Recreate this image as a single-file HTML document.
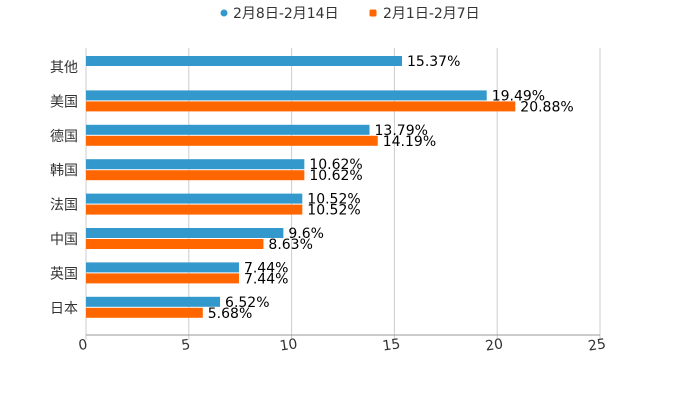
<!DOCTYPE html>
<html><head><meta charset="utf-8"><style>
body{margin:0;background:#fff;}
svg text{font-family:"DejaVu Sans","Noto Sans CJK SC",sans-serif;}
</style></head><body>
<svg id="c" width="700" height="400" xmlns="http://www.w3.org/2000/svg">
<g>
<g><circle cx="224" cy="13" r="3.5" fill="#3399cc"/><text x="233" y="18" font-size="14" fill="#333">2月8日-2月14日</text></g>
<g><rect x="369.5" y="9.5" width="7" height="7" rx="1.5" fill="#ff6600"/><text x="383" y="18" font-size="14" fill="#333">2月1日-2月7日</text></g>
</g>
<g id="grid"></g>
<g id="bars"></g>
<g id="ylabels"></g>
<g id="xlabels"></g>
</svg>
<script>
const categories=["其他","美国","德国","韩国","法国","中国","英国","日本"];
const seriesA=[15.37,19.49,13.79,10.62,10.52,9.6,7.44,6.52];
const seriesB=[null,20.88,14.19,10.62,10.52,8.63,7.44,5.68];
const xTicks=[0,5,10,15,20,25];
const NS="http://www.w3.org/2000/svg";
const x0=86,x1=600,xmax=25,plotTop=50,band=34.4,axisY=335;
const xs=v=>x0+(x1-x0)*v/xmax;
function el(t,a,p){const e=document.createElementNS(NS,t);for(const k in a)e.setAttribute(k,a[k]);p.appendChild(e);return e;}
const grid=document.getElementById('grid'),bars=document.getElementById('bars'),yl=document.getElementById('ylabels'),xl=document.getElementById('xlabels');
xTicks.forEach(t=>{
 const g=el('line',{x1:xs(t),x2:xs(t),y1:48,y2:axisY+5,stroke:'#ccc','stroke-width':1},grid);
 
 
 const tx=el('text',{x:xs(t)-3,y:axisY+14,'font-size':14,fill:'#333','text-anchor':'middle',transform:`rotate(-8 ${xs(t)} ${axisY+10})`},xl);
 tx.textContent=t;
 
 
});
const ax=el('line',{x1:x0,x2:x1,y1:axisY,y2:axisY,stroke:'#999','stroke-width':1},grid);


categories.forEach((c,i)=>{
 const y=plotTop+6+i*band;
 const lb=el('text',{x:78,y:y+16,'font-size':14,fill:'#333','text-anchor':'end'},yl);
 lb.textContent=c;
 
 
 [[seriesA[i],'#3399cc',0],[seriesB[i],'#ff6600',11]].forEach(([v,col,off])=>{
  if(v==null)return;
  const r=el('rect',{x:x0,y:y+off,width:xs(v)-x0,height:10,fill:col},bars);
  
  
  const t=el('text',{x:xs(v)+5,y:y+off+10,'font-size':14,fill:'#000'},bars);
  t.textContent=v+'%';
  
  
 });
});
</script>
</body></html>
